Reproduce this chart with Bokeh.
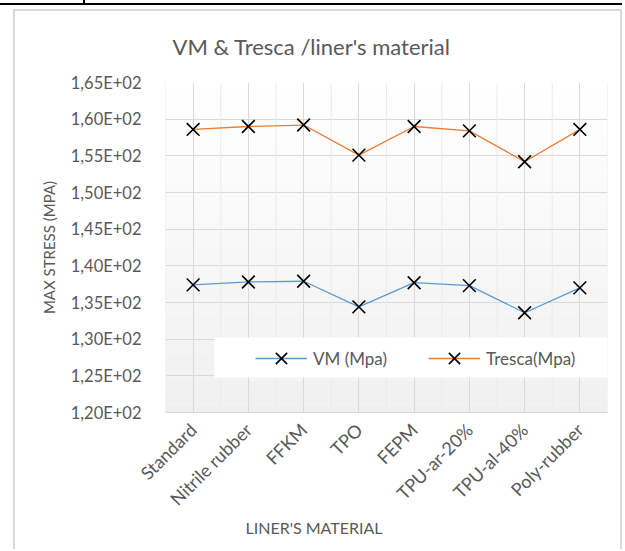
from math import pi
from bokeh.plotting import figure
from bokeh.models import (FactorRange, Range1d, FixedTicker, Span, BoxAnnotation,
                          Legend, LegendItem, Title)
from bokeh.embed import file_html
from bokeh.resources import INLINE

# ---- data ----
categories = ["Standard", "Nitrile rubber", "FFKM", "TPO", "FEPM",
              "TPU-ar-20%", "TPU-al-40%", "Poly-rubber"]
vm_values = [137.4, 137.8, 137.9, 134.4, 137.7, 137.3, 133.6, 137.0]
tresca_values = [158.6, 159.0, 159.2, 155.1, 159.0, 158.4, 154.2, 158.6]
y_ticks = [120, 125, 130, 135, 140, 145, 150, 155, 160, 165]
y_tick_labels = ["1,20E+02", "1,25E+02", "1,30E+02", "1,35E+02", "1,40E+02",
                 "1,45E+02", "1,50E+02", "1,55E+02", "1,60E+02", "1,65E+02"]
title_text = "VM & Tresca /liner's material"
x_title = "LINER'S MATERIAL"
y_title = "MAX STRESS (MPA)"
series_names = ["VM (Mpa)", "Tresca(Mpa)"]

FONT = "Lato"
TXT = "#595959"
GRID = "#d9d9d9"

p = figure(x_range=FactorRange(*categories, range_padding=0),
           y_range=Range1d(y_ticks[0], y_ticks[-1]),
           width=622, height=549, output_backend="svg", toolbar_location=None,
           min_border_left=165, min_border_right=15, min_border_top=82,
           min_border_bottom=137)
p.title = None
# light chart frame (left, top, right) and the black table rule above it,
# drawn as host background lines
gray_img = "linear-gradient(#d9d9d9, #d9d9d9)"
black_img = "linear-gradient(#000000, #000000)"
p.styles = {
    "background-color": "white",
    "background-image": ", ".join([black_img] * 2 + [gray_img] * 3),
    "background-size": ("100% 2px, 2px 4px, "
                        "2px 100%, calc(100% - 13px) 2px, 2px 100%"),
    "background-position": ("0px 3px, 83px 0px, "
                            "13px 9px, 13px 9px, right 0px top 9px"),
    "background-repeat": "no-repeat",
}
p.outline_line_color = None
p.background_fill_color = "white"
p.border_fill_alpha = 0

# gradient background of the plot area
n_steps = 40
y0, y1 = y_ticks[0], y_ticks[-1]
for i in range(n_steps):
    b = y0 + (y1 - y0) * i / n_steps
    t = y0 + (y1 - y0) * (i + 1) / n_steps
    frac = (i + 0.5) / n_steps  # 0 bottom -> 1 top
    g = int(round(240 + 15 * frac))
    p.add_layout(BoxAnnotation(bottom=b, top=t, fill_color=(g, g, g), fill_alpha=1,
                               line_color=None, level="image"))

# grids
p.ygrid.ticker = FixedTicker(ticks=y_ticks)
p.ygrid.grid_line_color = GRID
p.xgrid.grid_line_color = GRID
for k in range(len(categories) + 1):
    p.add_layout(Span(location=k, dimension="height", line_color="#ebebeb",
                      line_width=1, level="underlay"))

# axes
p.yaxis.ticker = FixedTicker(ticks=y_ticks)
p.yaxis.major_label_overrides = {t: l for t, l in zip(y_ticks, y_tick_labels)}
p.yaxis.axis_line_color = None
p.yaxis.major_tick_line_color = None
p.yaxis.minor_tick_line_color = None
p.yaxis.major_label_standoff = 18
p.yaxis.major_label_text_font = FONT
p.yaxis.major_label_text_font_size = "16.5px"
p.yaxis.major_label_text_color = TXT
p.yaxis.axis_label = y_title
p.yaxis.axis_label_text_font = FONT
p.yaxis.axis_label_text_font_size = "15px"
p.yaxis.axis_label_text_font_style = "normal"
p.yaxis.axis_label_text_color = TXT
p.yaxis.axis_label_standoff = 10

p.xaxis.axis_line_color = GRID
p.xaxis.major_tick_line_color = None
p.xaxis.minor_tick_line_color = None
p.xaxis.major_label_orientation = pi / 4
p.xaxis.major_label_standoff = 8
p.xaxis.major_label_text_font = FONT
p.xaxis.major_label_text_font_size = "18px"
p.xaxis.major_label_text_color = TXT

# lines + markers
r_vm_l = p.line(categories, vm_values, line_color="#5b9bd5", line_width=1.3)
r_vm_m = p.scatter(categories, vm_values, marker="x", size=18, line_color="black",
                   line_width=1.6)
r_tr_l = p.line(categories, tresca_values, line_color="#ed7d31", line_width=1.3)
r_tr_m = p.scatter(categories, tresca_values, marker="x", size=18, line_color="black",
                   line_width=1.6)

# legend background
p.add_layout(BoxAnnotation(left=0.887, bottom=124.77, top=130.23, fill_color="white",
                           fill_alpha=1, line_color=None))

legend = Legend(items=[LegendItem(label=series_names[0], renderers=[r_vm_l, r_vm_m]),
                       LegendItem(label=series_names[1], renderers=[r_tr_l, r_tr_m])],
                orientation="horizontal", location=(90, 34),
                glyph_width=52, glyph_height=40, label_height=40,
                label_standoff=6, spacing=41, padding=0, margin=0,
                background_fill_alpha=0, border_line_color=None,
                label_text_font=FONT, label_text_font_size="17px",
                label_text_color=TXT)
p.add_layout(legend)

# title
p.add_layout(Title(text=title_text, align="left", offset=7, standoff=45,
                   text_font=FONT, text_font_size="22px", text_font_style="normal",
                   text_color=TXT), "above")

# x axis title as a bottom title panel
p.add_layout(Title(text=x_title, align="left", offset=80, standoff=-9,
                   text_font=FONT, text_font_size="16px", text_font_style="normal",
                   text_color=TXT), "below")

open("out.html", "w").write(file_html(p, INLINE))
